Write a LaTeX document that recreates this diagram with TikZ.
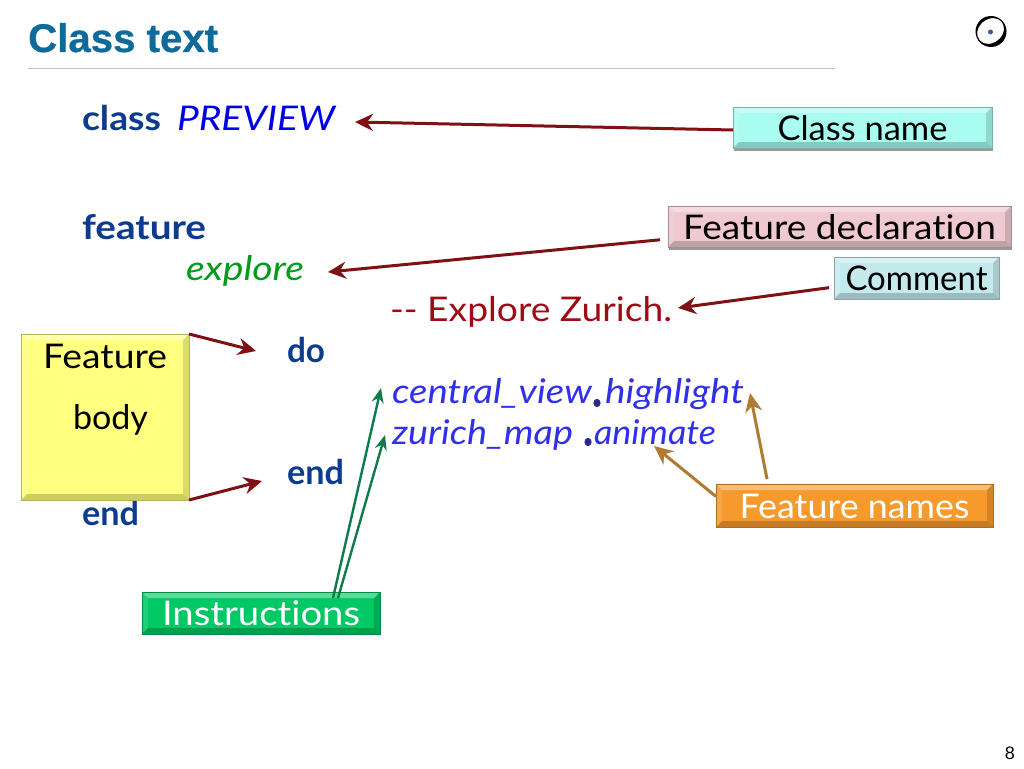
\documentclass[tikz,border=0pt]{standalone}
\usepackage{fontspec}
\usepackage{graphicx}
\setmainfont[Ligatures=NoCommon]{Lato}
\newfontfamily\titlefont[BoldFeatures={FakeBold=0.6}]{Liberation Sans}
\usetikzlibrary{arrows.meta,calc,shadows}
\newcommand{\fitw}[2]{\resizebox{#1pt}{\height}{#2}}
\definecolor{kw}{HTML}{0D3C8F}
\definecolor{cname}{HTML}{0000E6}
\definecolor{fname}{HTML}{009A1C}
\definecolor{cmt}{HTML}{A00A14}
\definecolor{instr}{HTML}{3030E8}
\definecolor{dotc}{HTML}{2A2A90}
\definecolor{arrred}{HTML}{7F1014}
\definecolor{arrgreen}{HTML}{0F7A4A}
\definecolor{arrbrown}{HTML}{B07A30}
\definecolor{HTMLtitle}{HTML}{0F6A9C}
\definecolor{ruleC}{HTML}{B8C4CC}
\definecolor{HTMLlogo}{HTML}{3A5A9C}
\definecolor{HTMLcyan}{HTML}{A8FCF0}
\definecolor{HTMLpink}{HTML}{EFC8D0}
\definecolor{HTMLice}{HTML}{C4EAEE}
\definecolor{HTMLyellow}{HTML}{FFFF80}
\definecolor{HTMLgreen}{HTML}{00C864}
\definecolor{HTMLorange}{HTML}{F79A2E}
\tikzset{
  x=1pt,y=-1pt,
  codetext/.style={anchor=base west,inner sep=0pt,outer sep=0pt,font=\fontsize{34}{34}\selectfont},
  bevelbox/.style={draw=#1!70!black,line width=.8pt,fill=#1,inner sep=0pt,outer sep=0pt,
    text height=25pt,text depth=0pt,font=\fontsize{34}{34}\selectfont,
    path picture={
      \coordinate (nw) at (path picture bounding box.north west);
      \coordinate (ne) at (path picture bounding box.north east);
      \coordinate (sw) at (path picture bounding box.south west);
      \coordinate (se) at (path picture bounding box.south east);
      \fill[white,opacity=.35] (nw) -- (ne) -- ($(ne)+(-6,6)$) -- ($(nw)+(6,6)$) -- cycle;
      \fill[white,opacity=.12] (nw) -- (sw) -- ($(sw)+(6,-6)$) -- ($(nw)+(6,6)$) -- cycle;
      \fill[black,opacity=.14] (ne) -- (se) -- ($(se)+(-6,-6)$) -- ($(ne)+(-6,6)$) -- cycle;
      \fill[black,opacity=.2] (sw) -- (se) -- ($(se)+(-6,-6)$) -- ($(sw)+(6,-6)$) -- cycle;
    }},
  boxshadow/.style={drop shadow={shadow xshift=1pt,shadow yshift=-3pt,opacity=.4,fill=black}},
  redarrow/.style={draw=arrred,line width=3pt,-{Stealth[length=18pt,width=17pt,inset=6pt]}},
  greenarrow/.style={draw=arrgreen,line width=2.4pt,-{Stealth[length=15pt,width=12pt,inset=5pt]}},
  brownarrow/.style={draw=arrbrown,line width=3pt,-{Stealth[length=19pt,width=17pt,inset=6pt]}},
}
\begin{document}
\begin{tikzpicture}
\useasboundingbox (0,0) rectangle (1024,768);
\fill[white] (0,0) rectangle (1024,768);
% title
\node[anchor=base west,inner sep=0pt,text=HTMLtitle] (title) at (28,52) {\fitw{190}{\titlefont\bfseries\fontsize{40}{40}\selectfont Class text}};
\coordinate (ruleA) at (28,68.5);
\coordinate (ruleB) at (835,68.5);
\draw[color=ruleC,line width=.8pt] (ruleA) -- (ruleB);
% logo
\fill[black,even odd rule] (991,31.5) circle (15.5) (990.6,31) [rotate around={40:(990.6,31)}] ellipse [x radius=14.4,y radius=11.8];
\fill[HTMLlogo] (990.5,32) circle (2.5);
\node[anchor=base east,inner sep=0pt] (pageno) at (1015,759) {\titlefont\fontsize{18}{18}\selectfont 8};
% code
\node[codetext,text=kw] (kclass) at (82,130) {\fitw{79}{\bfseries class}};
\node[codetext,text=cname] (preview) at (177,130) {\fitw{158}{\itshape PREVIEW}};
\node[codetext,text=kw] (kfeature) at (82,239) {\fitw{124}{\bfseries feature}};
\node[codetext,text=fname] (explore) at (186,280) {\fitw{118}{\itshape explore}};
\node[codetext,text=cmt] (comment) at (390,321) {\fitw{282}{-{}- Explore Zurich.}};
\node[codetext,text=kw] (kdo) at (287,362) {\fitw{38}{\bfseries do}};
\node[codetext,text=instr] (central) at (392,403) {\fitw{200}{\itshape central\_view}};
\node[codetext,text=instr] (highlight) at (605,403) {\fitw{139}{\itshape highlight}};
\node[codetext,text=instr] (zurich) at (392,444) {\fitw{181}{\itshape zurich\_map}};
\node[codetext,text=instr] (animate) at (594,444) {\fitw{122}{\itshape animate}};
\fill[dotc] (597,403) ellipse [x radius=3.6,y radius=4.2];
\fill[dotc] (588,442) ellipse [x radius=3.6,y radius=4.2];
\node[codetext,text=kw] (kend) at (287,484) {\fitw{57}{\bfseries end}};
\node[codetext,text=kw] (kendb) at (82,525) {\fitw{57}{\bfseries end}};
% boxes
\node[bevelbox=HTMLcyan,boxshadow,minimum width=259pt,minimum height=41pt] (bclass) at (862.5,127.5) {\fitw{170}{Class name}};
\node[bevelbox=HTMLpink,boxshadow,minimum width=343pt,minimum height=41pt] (bdecl) at (839.5,226.5) {\fitw{313}{Feature declaration}};
\node[bevelbox=HTMLice,minimum width=165pt,minimum height=42pt] (bcomment) at (916.5,278) {\fitw{142}{Comment}};
\node[bevelbox=HTMLyellow,minimum width=168pt,minimum height=166pt] (bbody) at (105,417) {};
\node[codetext,text=black] (tfeature) at (43,368) {\fitw{124}{Feature}};
\node[codetext,text=black] (tbody) at (73,429) {\fitw{75}{body}};
\node[bevelbox=HTMLgreen,minimum width=238pt,minimum height=42pt,text=white] (binstr) at (261,613) {\fitw{198}{Instructions}};
\node[bevelbox=HTMLorange,minimum width=277pt,minimum height=43pt,text=white] (bnames) at (854.5,505.5) {\fitw{230}{Feature names}};
% arrow targets
\coordinate (tipclass) at (355,122);
\coordinate (tipexplore) at (328,272);
\coordinate (tipcomment) at (678,308);
\coordinate (tipdo) at (256,351);
\coordinate (tipend) at (262,481);
\coordinate (tipcentral) at (381,388);
\coordinate (tipzurich) at (385,435);
\coordinate (tiphigh) at (750,393);
\coordinate (tipanim) at (654,446);
% connectors
\draw[redarrow] ($(bclass.west)+(0,2.5)$) -- (tipclass);
\draw[redarrow,shorten <=8pt] ($(bdecl.west)+(0,12.5)$) -- (tipexplore);
\draw[redarrow,shorten <=5pt] ($(bcomment.west)+(0,9)$) -- (tipcomment);
\draw[redarrow] (bbody.north east) -- (tipdo);
\draw[redarrow] (bbody.south east) -- (tipend);
\draw[greenarrow] ($(binstr.north)+(72,6)$) -- (tipcentral);
\draw[greenarrow] ($(binstr.north)+(77,6)$) -- (tipzurich);
\draw[brownarrow,shorten <=5pt] ($(bnames.north west)+(52,0)$) -- (tiphigh);
\draw[brownarrow] ($(bnames.west)+(0,-9)$) -- (tipanim);
\end{tikzpicture}
\end{document}
